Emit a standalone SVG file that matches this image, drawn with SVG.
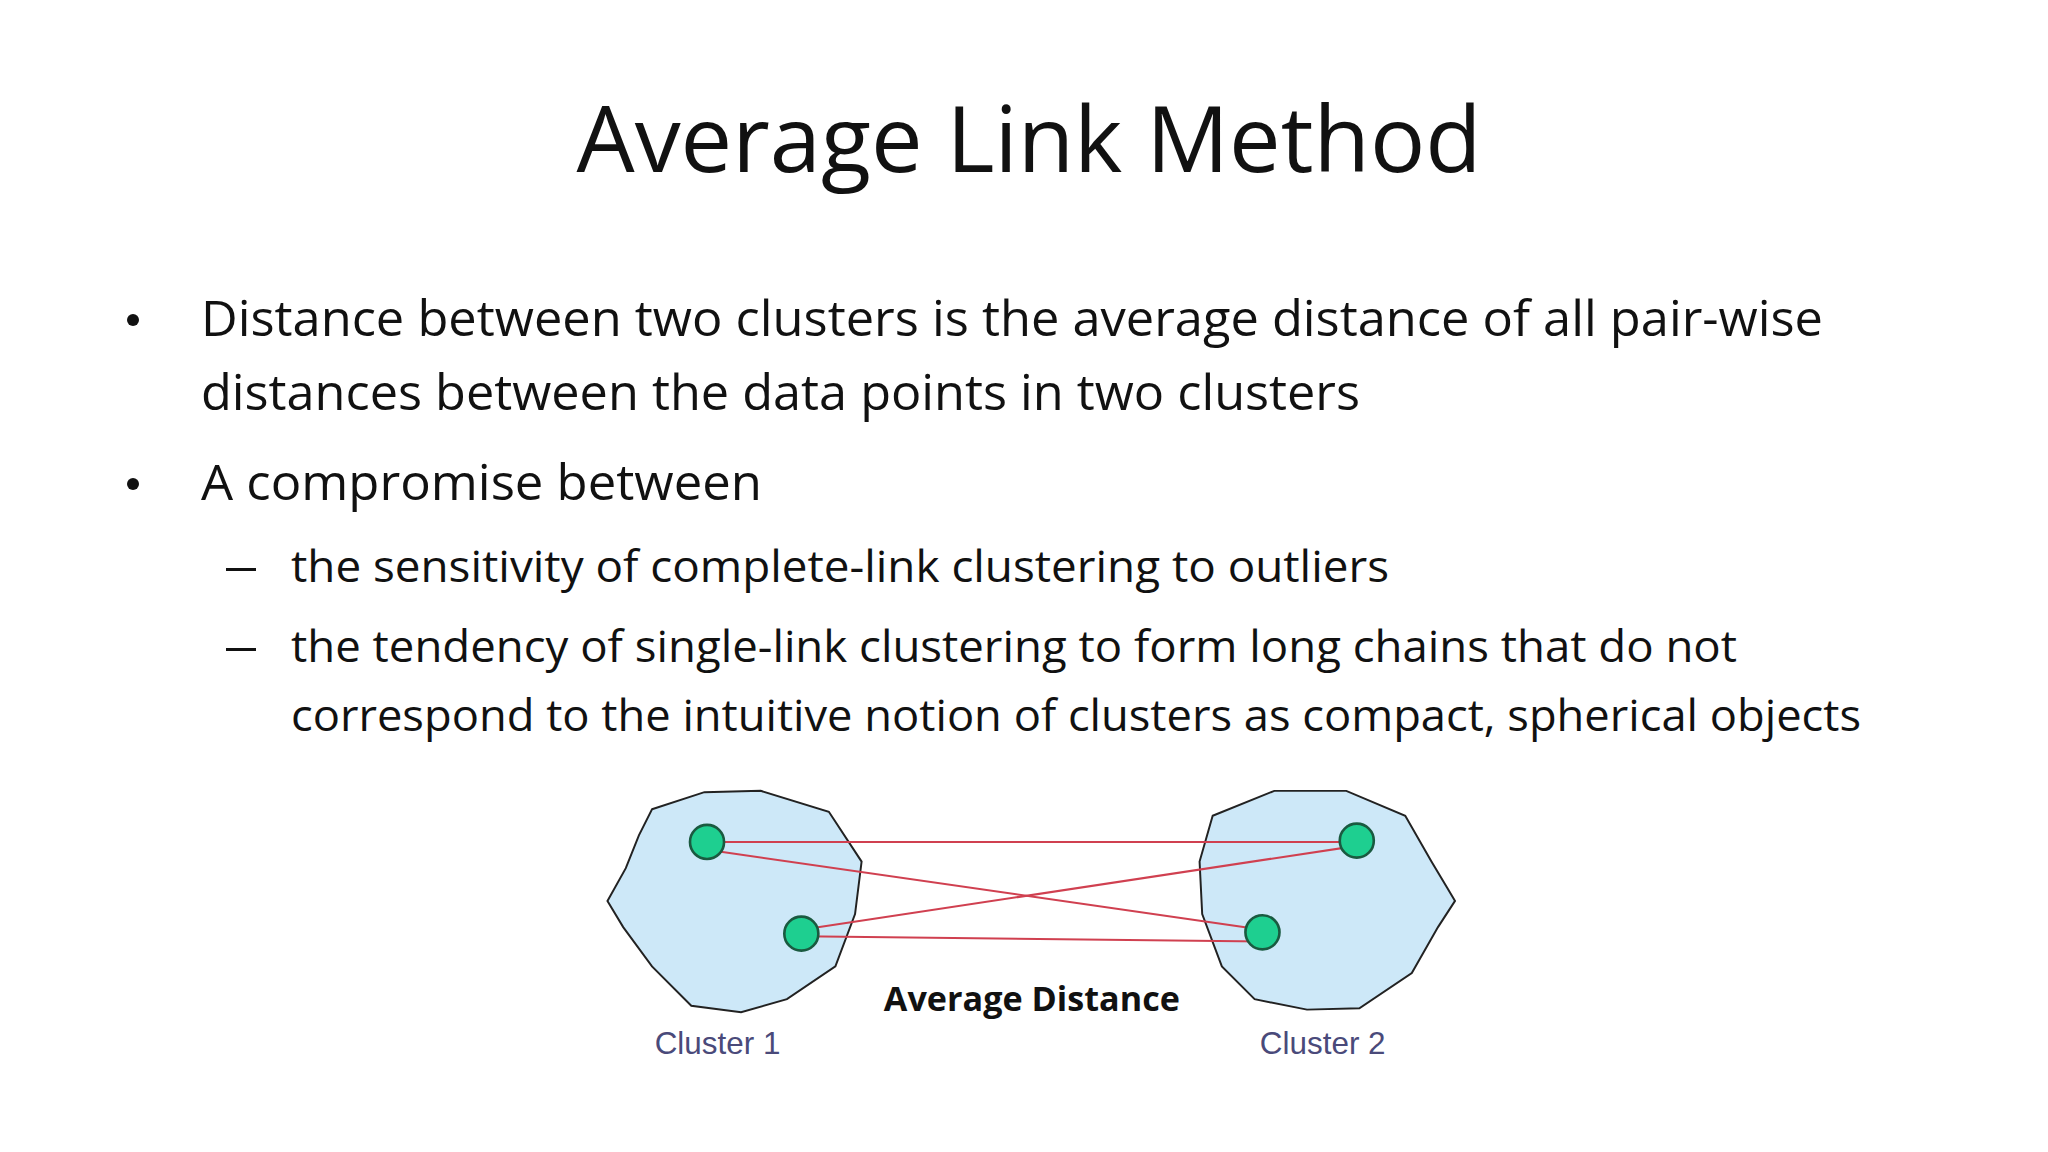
<svg xmlns="http://www.w3.org/2000/svg" width="2048" height="1152" viewBox="0 0 2048 1152">
<style>
.t{font-family:"Open Sans","Noto Sans",sans-serif;fill:#111}
.b{font-size:49px}
.s{font-size:44px}
.cl{fill:#cde8f8;stroke:#222;stroke-width:1.5}
.dot{fill:#1ecf90;stroke:#1a5a40;stroke-width:2}
.ln{stroke:#d04050;stroke-width:1.6;fill:none}
.lab{font-family:"Liberation Sans",Arial,sans-serif;font-size:24px;fill:#4a4a7a}
</style>
<rect width="2048" height="1152" fill="#fff"/>
<text class="t" x="1029" y="172" font-size="92" text-anchor="middle" textLength="905" lengthAdjust="spacingAndGlyphs">Average Link Method</text>
<g id="bullets">
<circle cx="133" cy="320" r="6" fill="#111"/>
<text class="t b" x="201" y="336" textLength="1622" lengthAdjust="spacingAndGlyphs">Distance between two clusters is the average distance of all pair-wise</text>
<text class="t b" x="201" y="410" textLength="1159" lengthAdjust="spacingAndGlyphs">distances between the data points in two clusters</text>
<circle cx="133" cy="484" r="6" fill="#111"/>
<text class="t b" x="201" y="500" textLength="561" lengthAdjust="spacingAndGlyphs">A compromise between</text>
<rect x="226" y="568" width="30" height="3" fill="#111"/>
<text class="t s" x="291" y="582" textLength="1098" lengthAdjust="spacingAndGlyphs">the sensitivity of complete-link clustering to outliers</text>
<rect x="226" y="648" width="30" height="3" fill="#111"/>
<text class="t s" x="291" y="662" textLength="1446" lengthAdjust="spacingAndGlyphs">the tendency of single-link clustering to form long chains that do not</text>
<text class="t s" x="291" y="731" textLength="1570" lengthAdjust="spacingAndGlyphs">correspond to the intuitive notion of clusters as compact, spherical objects</text>
</g>
<g transform="translate(-3,-3) scale(1.31)">
<g id="cluster1"><polygon class="cl" points="500,620 540,607 583,606 635,622 660,660 655,700 640,740 603,765 568,775 530,770 500,740 478,710 466,690 480,665 490,640"/></g>
<g id="cluster2"><polygon class="cl" points="928,625 975,606 1030,606 1075,625 1095,660 1107,680 1113,690 1100,710 1080,745 1040,772 1000,773 960,765 935,740 920,700 918,660"/></g>
<g id="connectors">
<line class="ln" x1="542" y1="645" x2="1038" y2="645"/>
<line class="ln" x1="542" y1="651" x2="966" y2="712"/>
<line class="ln" x1="614" y1="712" x2="1038" y2="648"/>
<line class="ln" x1="614" y1="717" x2="966" y2="721"/>
</g>
<g id="p1"><circle class="dot" cx="542" cy="645" r="13"/></g>
<g id="p2"><circle class="dot" cx="614" cy="715" r="13"/></g>
<g id="p3"><circle class="dot" cx="1038" cy="644" r="13"/></g>
<g id="p4"><circle class="dot" cx="966" cy="714" r="13"/></g>
<text x="790" y="774" text-anchor="middle" font-family="'Open Sans','Liberation Sans',sans-serif" font-weight="bold" font-size="26" fill="#111" textLength="226" lengthAdjust="spacingAndGlyphs">Average Distance</text>
<text class="lab" x="550" y="807" text-anchor="middle">Cluster 1</text>
<text class="lab" x="1012" y="807" text-anchor="middle">Cluster 2</text>
</g>
</svg>
